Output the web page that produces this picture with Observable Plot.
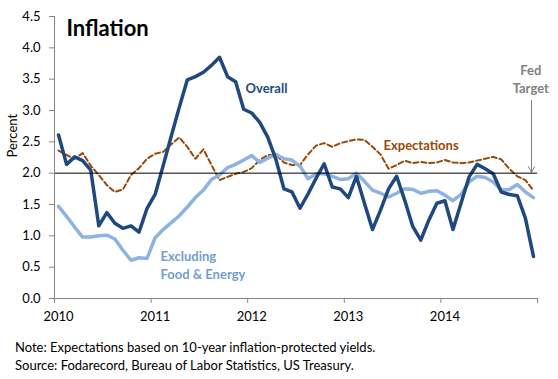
<!DOCTYPE html>
<html><head><meta charset="utf-8">
<script src="https://cdn.jsdelivr.net/npm/d3@7"></script>
<script src="https://cdn.jsdelivr.net/npm/@observablehq/plot@0.6"></script>
<style>
body{margin:0;background:#fff;font-family:Lato,"Open Sans",sans-serif;}
#chart{width:558px;}
#notes{padding:8px 0 0 15px;font-size:13px;line-height:18px;color:#000;}
</style></head><body>
<div id="chart"></div>
<div id="notes"><div>Note: Expectations based on 10-year inflation-protected yields.</div><div>Source: Fodarecord, Bureau of Labor Statistics, US Treasury.</div></div>
<script>
// Monthly values, Jan 2010 - Dec 2014 (percent)
const overall = [2.61,2.14,2.26,2.20,2.05,1.16,1.37,1.20,1.12,1.16,
                 1.06,1.44,1.66,2.12,2.59,3.05,3.49,3.54,3.61,3.72,
                 3.85,3.54,3.46,3.02,2.96,2.81,2.57,2.22,1.75,1.70,
                 1.44,1.67,1.92,2.15,1.78,1.75,1.61,1.95,1.52,1.10,
                 1.41,1.75,1.95,1.57,1.15,0.93,1.25,1.52,1.56,1.10,
                 1.52,1.94,2.14,2.07,1.99,1.70,1.66,1.64,1.28,0.67];
const core = [1.47,1.31,1.14,0.98,0.98,1.00,1.01,0.95,0.77,0.61,
              0.65,0.64,0.97,1.10,1.21,1.32,1.46,1.61,1.73,1.90,
              1.97,2.09,2.14,2.21,2.28,2.17,2.24,2.30,2.23,2.21,
              2.11,1.91,1.99,1.99,1.95,1.90,1.91,2.00,1.87,1.73,
              1.68,1.62,1.68,1.75,1.74,1.68,1.71,1.72,1.65,1.56,
              1.66,1.86,1.95,1.93,1.86,1.73,1.74,1.82,1.70,1.61];
const expectations = [2.36,2.29,2.23,2.32,2.12,1.97,1.81,1.70,1.74,1.97,
                      2.08,2.23,2.31,2.34,2.46,2.57,2.42,2.23,2.38,2.13,
                      1.89,1.94,1.99,2.02,2.08,2.21,2.29,2.29,2.17,2.13,
                      2.13,2.30,2.44,2.48,2.42,2.48,2.51,2.54,2.53,2.42,
                      2.30,2.07,2.13,2.20,2.16,2.18,2.16,2.17,2.21,2.17,
                      2.16,2.17,2.20,2.23,2.26,2.22,2.07,1.95,1.89,1.72];
const startYear = 2010;
const yearTicks = [2010, 2011, 2012, 2013, 2014, 2015];
const yearLabels = ["2010", "2011", "2012", "2013", "2014"];
const yTicks = [0, 0.5, 1, 1.5, 2, 2.5, 3, 3.5, 4, 4.5];
const fedTarget = 2;

const C_OVERALL = "#1F497D", C_CORE = "#8DB3E2", C_CORE_TXT = "#739DD3",
      C_EXP = "#984807", C_GRAY = "#7F7F7F", C_AXIS = "#868686";

// month midpoints as fractional years
const t = i => startYear + (i + 0.5) / 12;
const data = overall.map((v, i) => ({t: t(i), overall: v, core: core[i], exp: expectations[i]}));
const labelPos = yearLabels.map((s, i) => startYear + i + 0.5 / 12);

const seriesLabels = [
  {x: 2011.977, y: 3.37, text: "Overall", fill: C_OVERALL},
  {x: 2013.406, y: 2.46, text: "Expectations", fill: C_EXP},
  {x: 2011.097, y: 0.54, text: "Excluding\nFood & Energy", fill: C_CORE_TXT}
];
const fedLabel = [{x: 2014.93, y: 3.51, text: "Fed\nTarget"}];
const fedArrow = [{x: 2014.938, y1: 3.16, y2: 2.01}];

const chart = Plot.plot({
  width: 558, height: 330,
  marginLeft: 54, marginRight: 21, marginTop: 16, marginBottom: 32,
  style: {fontFamily: "Lato, 'Open Sans', sans-serif", fontSize: "13px", background: "#fff", color: "#000", overflow: "visible"},
  x: {domain: [2010, 2015]},
  y: {domain: [0, 4.5]},
  marks: [
    Plot.line(data, {x: "t", y: "exp", stroke: C_EXP, strokeWidth: 2, strokeDasharray: "5,3"}),
    Plot.line(data, {x: "t", y: "core", stroke: C_CORE, strokeWidth: 3.5}),
    Plot.line(data, {x: "t", y: "overall", stroke: C_OVERALL, strokeWidth: 3.5}),
    Plot.ruleY([fedTarget], {stroke: "#000", strokeWidth: 1}),
    Plot.ruleX([2010], {stroke: C_AXIS}),
    Plot.ruleY([0], {stroke: C_AXIS}),
    Plot.axisY({ticks: yTicks, tickSize: 5, tickPadding: 9, tickFormat: d3.format(".1f"), stroke: C_AXIS, fill: "#000", label: null}),
    Plot.axisX({ticks: yearTicks, tickSize: 5, tickFormat: () => "", stroke: C_AXIS, label: null}),
    Plot.axisX({ticks: labelPos, tickSize: 0, tickPadding: 13, tickFormat: d => yearLabels[Math.round(d - startYear - 0.5 / 12)], fill: "#000", label: null}),
    Plot.text(["Percent"], {frameAnchor: "left", dx: -42, rotate: -90, fontSize: 13}),
    Plot.text(["Inflation"], {frameAnchor: "top-left", dx: 12, dy: 12.5, fontSize: 22, fontWeight: "bold", textAnchor: "start", lineAnchor: "middle"}),
    Plot.text(seriesLabels, {x: "x", y: "y", text: "text", fill: "fill", textAnchor: "start", fontWeight: "bold", fontSize: 13, lineHeight: 1.38}),
    Plot.text(fedLabel, {x: "x", y: "y", text: "text", fill: C_GRAY, textAnchor: "middle", fontWeight: "bold", fontSize: 13, lineHeight: 1.38}),
    Plot.arrow(fedArrow, {x1: "x", x2: "x", y1: "y1", y2: "y2", stroke: C_GRAY, strokeWidth: 1, headLength: 10, headAngle: 55})
  ]
});
document.getElementById("chart").appendChild(chart);
</script>
</body></html>
